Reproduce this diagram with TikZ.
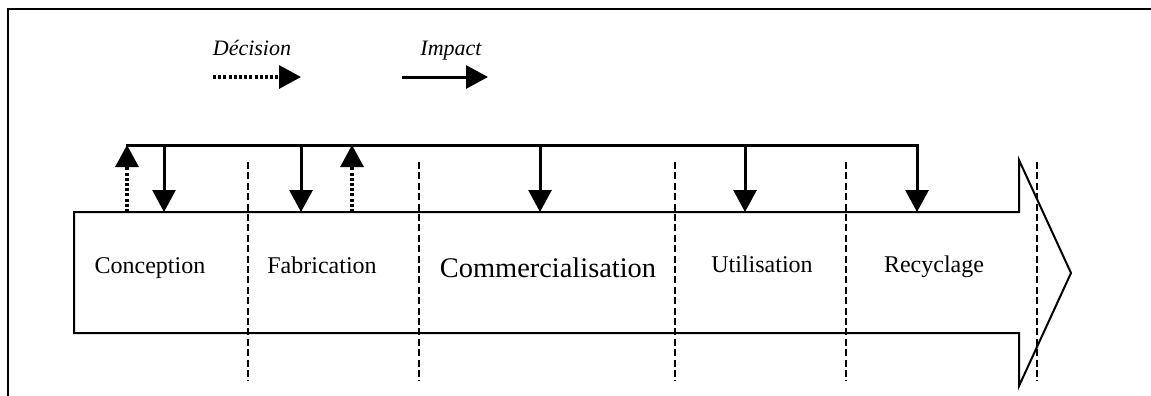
\documentclass[tikz,border=0pt]{standalone}
\usepackage{fontspec}
\setmainfont{Liberation Serif}
\usetikzlibrary{arrows.meta}
\begin{document}
\begin{tikzpicture}[x=0.5pt,y=-0.5pt,
  imp/.style={line width=1.5pt,-{Triangle[width=11.5pt,length=11pt]}},
  dec/.style={line width=1.6pt,dash pattern=on 1.5pt off 1.1pt,-{Triangle[width=11.5pt,length=11pt]}},
  sep/.style={line width=0.75pt,dash pattern=on 3.5pt off 1.7pt},
  outline/.style={line width=1pt},
  stage/.style={font=\fontsize{12}{14}\selectfont, anchor=base, inner sep=0pt},
  legend/.style={font=\fontsize{11}{13}\selectfont\itshape, anchor=base, inner sep=0pt}]
\useasboundingbox (0,0) rectangle (1151,396);
% frame
\draw[outline] (8,396) -- (8,9) -- (1151,9);
% legend
\node[legend] (ldec) at (252,55) {Décision};
\node[legend] (limp) at (451,55) {Impact};
\coordinate (d0) at (213,77); \coordinate (d1) at (301,77);
\coordinate (i0) at (402,77); \coordinate (i1) at (488,77);
\draw[dec] (d0) -- (d1);
\draw[imp] (i0) -- (i1);
% block arrow
\draw[outline,line join=miter] (74,212) -- (1019,212) -- (1019,160) -- (1071,273) -- (1019,386) -- (1019,333) -- (74,333) -- cycle;
% separators
\foreach \x/\n in {248/s1,419/s2,675/s3,846/s4,1037/s5}{
  \coordinate (\n t) at (\x,162); \coordinate (\n b) at (\x,381);
  \draw[sep] (\n t) -- (\n b);
}
% stage labels
\node[stage] (conc) at (150,273) {Conception};
\node[stage] (fabr) at (322,273) {Fabrication};
\node[stage,font=\fontsize{14.2}{16}\selectfont] (comm) at (548,277) {Commercialisation};
\node[stage] (util) at (762,272) {Utilisation};
\node[stage] (recy) at (934,272) {Recyclage};
% top bar
\coordinate (bL) at (127,145);
\coordinate (bR) at (917,145);
\draw[line width=1.5pt,line cap=rect] (bL) -- (bR);
% bar taps and box targets
\foreach \x/\n in {127/a,164/b,301/c,352/e,540/f,745/g,917/h}{
  \coordinate (top\n) at (\x,145);
  \coordinate (box\n) at (\x,212);
}
\draw[dec] (boxa) -- (topa);
\draw[dec] (boxe) -- (tope);
\draw[imp] (topb) -- (boxb);
\draw[imp] (topc) -- (boxc);
\draw[imp] (topf) -- (boxf);
\draw[imp] (topg) -- (boxg);
\draw[imp] (toph) -- (boxh);
\end{tikzpicture}
\end{document}
